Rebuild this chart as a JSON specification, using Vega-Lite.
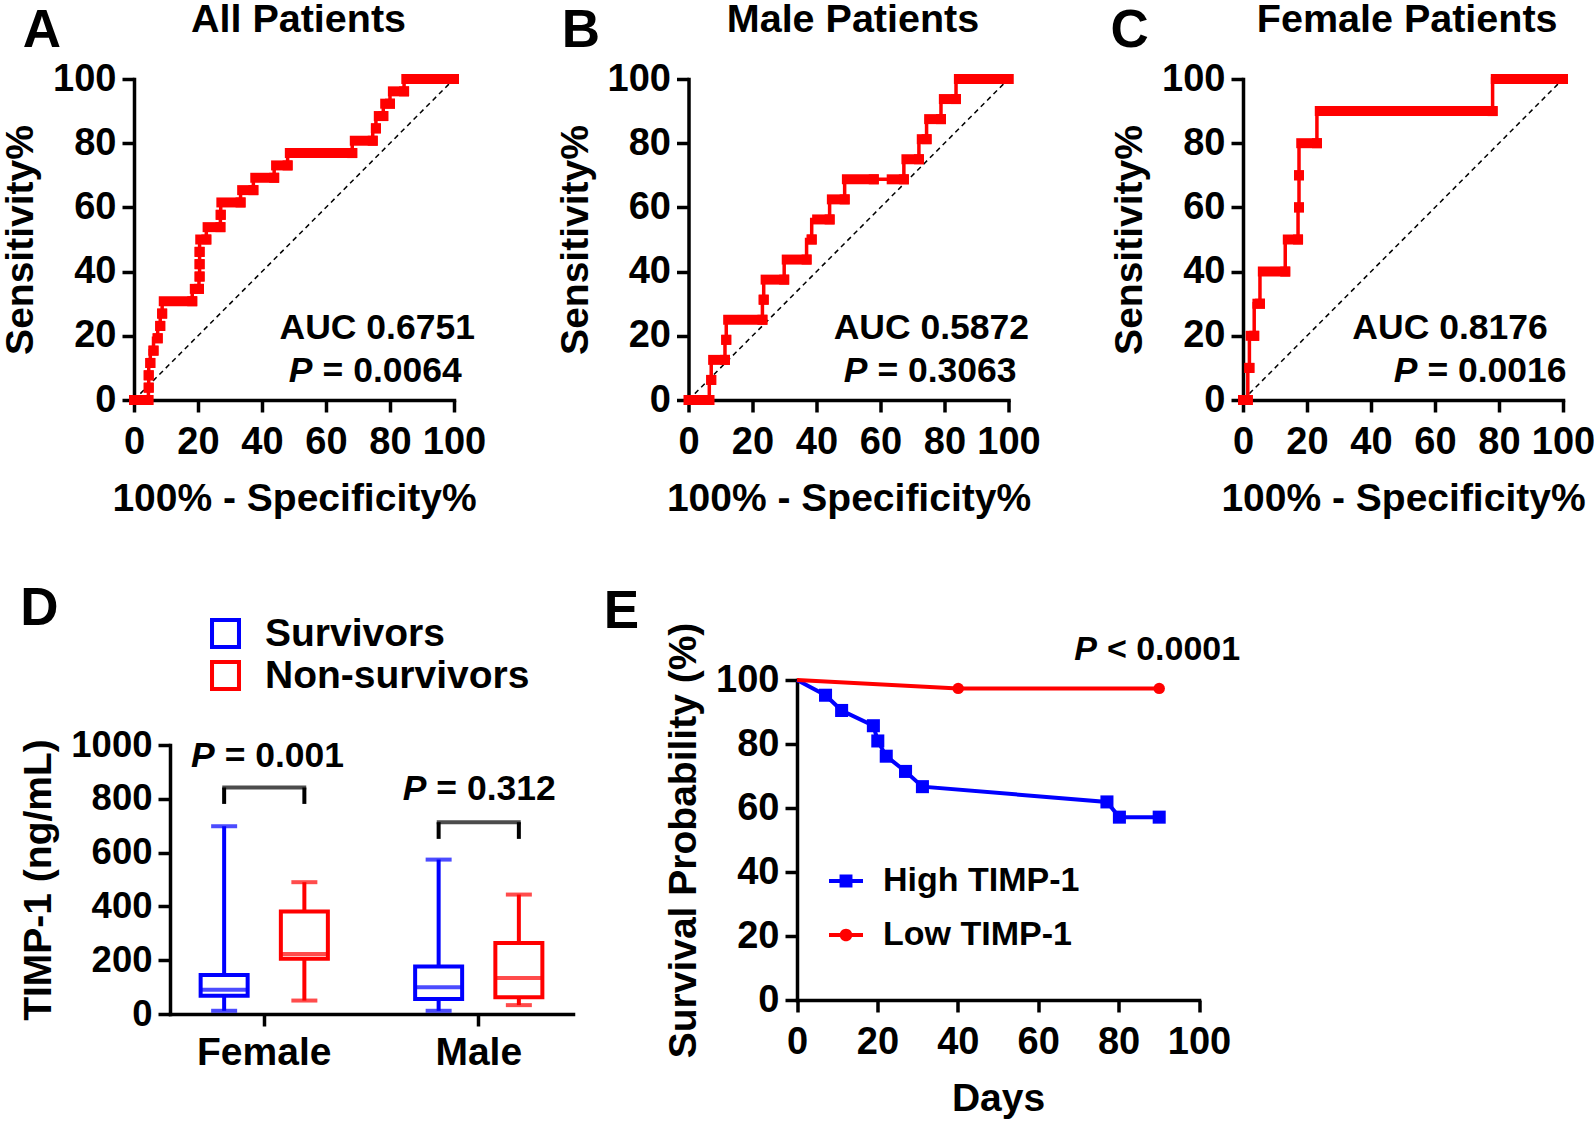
{
  "$schema": "https://vega.github.io/schema/vega-lite/v6.json",
  "background": "white",
  "padding": {"left": 1, "top": 0, "right": 0, "bottom": 5},
  "config": {
    "font": "Liberation Sans",
    "view": {"stroke": null},
    "axis": {"domainColor": "#000", "domainWidth": 3.5, "domainCap": "square", "tickColor": "#000", "tickWidth": 3.5, "tickSize": 12, "grid": false,
      "labelFont": "Liberation Sans", "labelFontSize": 38, "labelFontWeight": "bold", "labelColor": "#000",
      "titleFont": "Liberation Sans", "titleFontSize": 39, "titleFontWeight": "bold", "titleColor": "#000",
      "labelFlush": false, "labelOverlap": false, "labelBound": false},
    "axisX": {"labelPadding": 11, "titlePadding": 18},
    "axisY": {"labelPadding": 6, "titlePadding": 12},
    "text": {"font": "Liberation Sans", "fontWeight": "bold", "color": "#000"},
    "legend": {"labelFont": "Liberation Sans", "labelFontWeight": "bold", "labelColor": "#000", "labelLimit": 0}
  },
  "datasets": {
    "rocAll": [
      {"sens": 0, "xa": 0, "xb": 4.5}, {"sens": 3.85, "xa": 4.6, "xb": 4.6}, {"sens": 7.69, "xa": 4.6, "xb": 4.6},
      {"sens": 11.54, "xa": 5.1, "xb": 5.1}, {"sens": 15.38, "xa": 6.1, "xb": 6.1}, {"sens": 19.23, "xa": 7.4, "xb": 7.4},
      {"sens": 23.08, "xa": 8.2, "xb": 8.2}, {"sens": 26.92, "xa": 8.8, "xb": 8.8}, {"sens": 30.77, "xa": 9.3, "xb": 18.2},
      {"sens": 34.62, "xa": 19.0, "xb": 20.3}, {"sens": 38.46, "xa": 20.5, "xb": 20.5}, {"sens": 42.31, "xa": 20.5, "xb": 20.5},
      {"sens": 46.15, "xa": 20.5, "xb": 20.5}, {"sens": 50.0, "xa": 20.7, "xb": 22.6}, {"sens": 53.85, "xa": 23.0, "xb": 27.0},
      {"sens": 57.69, "xa": 27.1, "xb": 27.1}, {"sens": 61.54, "xa": 27.3, "xb": 33.3}, {"sens": 65.38, "xa": 33.8, "xb": 37.3},
      {"sens": 69.23, "xa": 37.9, "xb": 43.8}, {"sens": 73.08, "xa": 44.4, "xb": 48.0}, {"sens": 76.92, "xa": 48.7, "xb": 68.2},
      {"sens": 80.77, "xa": 69.0, "xb": 74.6}, {"sens": 84.62, "xa": 75.6, "xb": 75.6}, {"sens": 88.46, "xa": 76.5, "xb": 77.9},
      {"sens": 92.31, "xa": 78.5, "xb": 80.0}, {"sens": 96.15, "xa": 80.9, "xb": 84.4}, {"sens": 100, "xa": 85.1, "xb": 100}
    ],
    "rocMale": [
      {"sens": 0, "xa": 0, "xb": 6.5}, {"sens": 6.25, "xa": 7.1, "xb": 7.1}, {"sens": 12.5, "xa": 7.7, "xb": 11.4},
      {"sens": 18.75, "xa": 11.8, "xb": 11.8}, {"sens": 25, "xa": 12.4, "xb": 23.1}, {"sens": 31.25, "xa": 23.5, "xb": 23.5},
      {"sens": 37.5, "xa": 24.1, "xb": 29.9}, {"sens": 43.75, "xa": 30.7, "xb": 36.9}, {"sens": 50, "xa": 38.5, "xb": 38.5},
      {"sens": 56.25, "xa": 40.2, "xb": 44.1}, {"sens": 62.5, "xa": 44.8, "xb": 48.8}, {"sens": 68.75, "xa": 49.5, "xb": 57.9},
      {"sens": 68.75, "xa": 63.5, "xb": 67.3}, {"sens": 75, "xa": 68.1, "xb": 72.0}, {"sens": 81.25, "xa": 72.9, "xb": 74.4},
      {"sens": 87.5, "xa": 75.2, "xb": 78.9}, {"sens": 93.75, "xa": 79.8, "xb": 83.6}, {"sens": 100, "xa": 84.5, "xb": 100}
    ],
    "rocFemale": [
      {"sens": 0, "xa": 0, "xb": 1.5}, {"sens": 10, "xa": 2.0, "xb": 2.0}, {"sens": 20, "xa": 2.4, "xb": 3.5},
      {"sens": 30, "xa": 4.5, "xb": 5.3}, {"sens": 40, "xa": 6.2, "xb": 13.2}, {"sens": 50, "xa": 14.0, "xb": 17.2},
      {"sens": 60, "xa": 17.5, "xb": 17.5}, {"sens": 70, "xa": 17.5, "xb": 17.5}, {"sens": 80, "xa": 18.2, "xb": 23.1},
      {"sens": 90, "xa": 24.0, "xb": 78.0}, {"sens": 100, "xa": 79.0, "xb": 100}
    ],
    "box": [
      {"sex": "Female", "group": "Survivors", "min": 12, "q1": 68, "median": 90, "q3": 145, "max": 698},
      {"sex": "Female", "group": "Non-survivors", "min": 50, "q1": 205, "median": 223, "q3": 381, "max": 490},
      {"sex": "Male", "group": "Survivors", "min": 12, "q1": 56, "median": 99, "q3": 177, "max": 574},
      {"sex": "Male", "group": "Non-survivors", "min": 33, "q1": 62, "median": 134, "q3": 264, "max": 444}
    ],
    "surv": [
      {"group": "High TIMP-1", "day": 0, "surv": 100}, {"group": "High TIMP-1", "day": 7.1, "surv": 95.24},
      {"group": "High TIMP-1", "day": 11.1, "surv": 90.48}, {"group": "High TIMP-1", "day": 19.0, "surv": 85.71},
      {"group": "High TIMP-1", "day": 20.1, "surv": 80.95}, {"group": "High TIMP-1", "day": 22.2, "surv": 76.19},
      {"group": "High TIMP-1", "day": 27.0, "surv": 71.43}, {"group": "High TIMP-1", "day": 31.2, "surv": 66.67},
      {"group": "High TIMP-1", "day": 77.1, "surv": 61.9}, {"group": "High TIMP-1", "day": 80.2, "surv": 57.14},
      {"group": "High TIMP-1", "day": 90.1, "surv": 57.14},
      {"group": "Low TIMP-1", "day": 0, "surv": 100}, {"group": "Low TIMP-1", "day": 40.1, "surv": 97.37},
      {"group": "Low TIMP-1", "day": 90.1, "surv": 97.37}
    ]
  },
  "columns": 3,
  "align": "each",
  "bounds": "flush",
  "spacing": {"row": 280, "column": 234.5},
  "resolve": {"scale": {"color": "independent", "shape": "independent"}, "legend": {"color": "independent", "shape": "independent"}},
  "concat": [
    {
      "width": 320, "height": 321,
      "data": {"name": "rocAll"},
      "layer": [
        {"data": {"values": [{}]}, "mark": {"type": "rule", "color": "#000", "strokeWidth": 1.5, "strokeDash": [5, 4]},
         "encoding": {"x": {"datum": 0, "type": "quantitative"}, "y": {"datum": 0, "type": "quantitative"}, "x2": {"datum": 100}, "y2": {"datum": 100}}},
        {"mark": {"type": "line", "interpolate": "step-before", "color": "#ff0000", "strokeWidth": 3.5, "clip": false},
         "encoding": {
           "x": {"field": "xb", "type": "quantitative", "title": "100% - Specificity%", "scale": {"domain": [0, 100], "nice": false}, "axis": {"values": [0, 20, 40, 60, 80, 100]}},
           "y": {"field": "sens", "type": "quantitative", "title": "Sensitivity%", "scale": {"domain": [0, 100], "nice": false}, "axis": {"values": [0, 20, 40, 60, 80, 100]}},
           "order": {"field": "sens", "type": "quantitative"}}},
        {"mark": {"type": "rule", "color": "#ff0000", "strokeWidth": 10, "strokeCap": "square", "clip": false},
         "encoding": {"x": {"field": "xa", "type": "quantitative", "title": "100% - Specificity%"}, "x2": {"field": "xb"}, "y": {"field": "sens", "type": "quantitative", "title": "Sensitivity%"}}},
        {"mark": {"type": "square", "color": "#ff0000", "size": 100, "opacity": 1, "clip": false},
         "encoding": {"x": {"field": "xb", "type": "quantitative", "title": "100% - Specificity%"}, "y": {"field": "sens", "type": "quantitative", "title": "Sensitivity%"}}},
        {"data": {"values": [{}]}, "mark": {"type": "text", "text": "All Patients", "fontSize": 39.5, "baseline": "alphabetic", "align": "center", "clip": false},
         "encoding": {"x": {"datum": 51.4, "type": "quantitative"}, "y": {"datum": 114.6, "type": "quantitative"}}},
        {"data": {"values": [{}]}, "mark": {"type": "text", "text": "A", "fontSize": 53, "baseline": "alphabetic", "align": "left", "clip": false},
         "encoding": {"x": {"datum": -34.8, "type": "quantitative"}, "y": {"datum": 110, "type": "quantitative"}}},
        {"data": {"values": [{}]}, "mark": {"type": "text", "text": "AUC 0.6751", "fontSize": 35.5, "baseline": "alphabetic", "align": "center", "clip": false},
         "encoding": {"x": {"datum": 76, "type": "quantitative"}, "y": {"datum": 19, "type": "quantitative"}}},
        {"data": {"values": [{}]}, "mark": {"type": "text", "text": "P", "fontStyle": "italic", "fontSize": 35.5, "baseline": "alphabetic", "align": "right", "clip": false},
         "encoding": {"x": {"datum": 55.8, "type": "quantitative"}, "y": {"datum": 5.6, "type": "quantitative"}}},
        {"data": {"values": [{}]}, "mark": {"type": "text", "text": "= 0.0064", "fontSize": 35.5, "baseline": "alphabetic", "align": "left", "dx": 10, "clip": false},
         "encoding": {"x": {"datum": 55.8, "type": "quantitative"}, "y": {"datum": 5.6, "type": "quantitative"}}}
      ]
    },
    {
      "width": 320, "height": 321,
      "data": {"name": "rocMale"},
      "layer": [
        {"data": {"values": [{}]}, "mark": {"type": "rule", "color": "#000", "strokeWidth": 1.5, "strokeDash": [5, 4]},
         "encoding": {"x": {"datum": 0, "type": "quantitative"}, "y": {"datum": 0, "type": "quantitative"}, "x2": {"datum": 100}, "y2": {"datum": 100}}},
        {"mark": {"type": "line", "interpolate": "step-before", "color": "#ff0000", "strokeWidth": 3.5, "clip": false},
         "encoding": {
           "x": {"field": "xb", "type": "quantitative", "title": "100% - Specificity%", "scale": {"domain": [0, 100], "nice": false}, "axis": {"values": [0, 20, 40, 60, 80, 100]}},
           "y": {"field": "sens", "type": "quantitative", "title": "Sensitivity%", "scale": {"domain": [0, 100], "nice": false}, "axis": {"values": [0, 20, 40, 60, 80, 100]}},
           "order": {"field": "sens", "type": "quantitative"}}},
        {"mark": {"type": "rule", "color": "#ff0000", "strokeWidth": 10, "strokeCap": "square", "clip": false},
         "encoding": {"x": {"field": "xa", "type": "quantitative", "title": "100% - Specificity%"}, "x2": {"field": "xb"}, "y": {"field": "sens", "type": "quantitative", "title": "Sensitivity%"}}},
        {"mark": {"type": "square", "color": "#ff0000", "size": 100, "opacity": 1, "clip": false},
         "encoding": {"x": {"field": "xb", "type": "quantitative", "title": "100% - Specificity%"}, "y": {"field": "sens", "type": "quantitative", "title": "Sensitivity%"}}},
        {"data": {"values": [{}]}, "mark": {"type": "text", "text": "Male Patients", "fontSize": 39.5, "baseline": "alphabetic", "align": "center", "clip": false},
         "encoding": {"x": {"datum": 51.4, "type": "quantitative"}, "y": {"datum": 114.6, "type": "quantitative"}}},
        {"data": {"values": [{}]}, "mark": {"type": "text", "text": "B", "fontSize": 53, "baseline": "alphabetic", "align": "left", "clip": false},
         "encoding": {"x": {"datum": -39.6, "type": "quantitative"}, "y": {"datum": 110, "type": "quantitative"}}},
        {"data": {"values": [{}]}, "mark": {"type": "text", "text": "AUC 0.5872", "fontSize": 35.5, "baseline": "alphabetic", "align": "center", "clip": false},
         "encoding": {"x": {"datum": 75.9, "type": "quantitative"}, "y": {"datum": 19, "type": "quantitative"}}},
        {"data": {"values": [{}]}, "mark": {"type": "text", "text": "P", "fontStyle": "italic", "fontSize": 35.5, "baseline": "alphabetic", "align": "right", "clip": false},
         "encoding": {"x": {"datum": 55.9, "type": "quantitative"}, "y": {"datum": 5.6, "type": "quantitative"}}},
        {"data": {"values": [{}]}, "mark": {"type": "text", "text": "= 0.3063", "fontSize": 35.5, "baseline": "alphabetic", "align": "left", "dx": 10, "clip": false},
         "encoding": {"x": {"datum": 55.9, "type": "quantitative"}, "y": {"datum": 5.6, "type": "quantitative"}}}
      ]
    },
    {
      "width": 320, "height": 321,
      "data": {"name": "rocFemale"},
      "layer": [
        {"data": {"values": [{}]}, "mark": {"type": "rule", "color": "#000", "strokeWidth": 1.5, "strokeDash": [5, 4]},
         "encoding": {"x": {"datum": 0, "type": "quantitative"}, "y": {"datum": 0, "type": "quantitative"}, "x2": {"datum": 100}, "y2": {"datum": 100}}},
        {"mark": {"type": "line", "interpolate": "step-before", "color": "#ff0000", "strokeWidth": 3.5, "clip": false},
         "encoding": {
           "x": {"field": "xb", "type": "quantitative", "title": "100% - Specificity%", "scale": {"domain": [0, 100], "nice": false}, "axis": {"values": [0, 20, 40, 60, 80, 100]}},
           "y": {"field": "sens", "type": "quantitative", "title": "Sensitivity%", "scale": {"domain": [0, 100], "nice": false}, "axis": {"values": [0, 20, 40, 60, 80, 100]}},
           "order": {"field": "sens", "type": "quantitative"}}},
        {"mark": {"type": "rule", "color": "#ff0000", "strokeWidth": 10, "strokeCap": "square", "clip": false},
         "encoding": {"x": {"field": "xa", "type": "quantitative", "title": "100% - Specificity%"}, "x2": {"field": "xb"}, "y": {"field": "sens", "type": "quantitative", "title": "Sensitivity%"}}},
        {"mark": {"type": "square", "color": "#ff0000", "size": 100, "opacity": 1, "clip": false},
         "encoding": {"x": {"field": "xb", "type": "quantitative", "title": "100% - Specificity%"}, "y": {"field": "sens", "type": "quantitative", "title": "Sensitivity%"}}},
        {"data": {"values": [{}]}, "mark": {"type": "text", "text": "Female Patients", "fontSize": 39.5, "baseline": "alphabetic", "align": "center", "clip": false},
         "encoding": {"x": {"datum": 51.3, "type": "quantitative"}, "y": {"datum": 114.6, "type": "quantitative"}}},
        {"data": {"values": [{}]}, "mark": {"type": "text", "text": "C", "fontSize": 53, "baseline": "alphabetic", "align": "left", "clip": false},
         "encoding": {"x": {"datum": -41.4, "type": "quantitative"}, "y": {"datum": 110, "type": "quantitative"}}},
        {"data": {"values": [{}]}, "mark": {"type": "text", "text": "AUC 0.8176", "fontSize": 35.5, "baseline": "alphabetic", "align": "center", "clip": false},
         "encoding": {"x": {"datum": 64.7, "type": "quantitative"}, "y": {"datum": 19, "type": "quantitative"}}},
        {"data": {"values": [{}]}, "mark": {"type": "text", "text": "P", "fontStyle": "italic", "fontSize": 35.5, "baseline": "alphabetic", "align": "right", "clip": false},
         "encoding": {"x": {"datum": 54.5, "type": "quantitative"}, "y": {"datum": 5.6, "type": "quantitative"}}},
        {"data": {"values": [{}]}, "mark": {"type": "text", "text": "= 0.0016", "fontSize": 35.5, "baseline": "alphabetic", "align": "left", "dx": 10, "clip": false},
         "encoding": {"x": {"datum": 54.5, "type": "quantitative"}, "y": {"datum": 5.6, "type": "quantitative"}}}
      ]
    },
    {
      "width": 320, "height": 334,
      "data": {"name": "box"},
      "encoding": {
        "x": {"field": "sex", "type": "nominal", "title": null, "scale": {"domain": ["Female", "Male"], "range": [36, 439], "paddingInner": 0.252, "paddingOuter": 0.0654}, "axis": {"labelAngle": 0, "labelFontSize": 39, "labelPadding": 7}},
        "xOffset": {"field": "group", "type": "nominal", "scale": {"domain": ["Survivors", "Non-survivors"], "paddingInner": 0.414, "paddingOuter": 0.207}},
        "color": {"field": "group", "type": "nominal", "scale": {"domain": ["Survivors", "Non-survivors"], "range": ["#0000ff", "#ff0000"]},
          "legend": {"title": null, "orient": "none", "legendX": 72, "legendY": -66, "direction": "vertical", "padding": 0,
            "labelFontSize": 39, "labelOffset": 20, "rowPadding": 2, "symbolType": "M-1,-1H1V1H-1Z M-0.74,-0.74V0.74H0.74V-0.74Z", "symbolSize": 961, "symbolStrokeWidth": 0}}
      },
      "layer": [
        {"mark": {"type": "rule", "strokeWidth": 4},
         "encoding": {"y": {"field": "min", "type": "quantitative", "title": "TIMP-1 (ng/mL)", "scale": {"domain": [0, 1000], "range": [334, 65], "nice": false}, "axis": {"values": [0, 200, 400, 600, 800, 1000], "format": "d", "labelFontSize": 36.5, "offset": -36}}, "y2": {"field": "q1"}}},
        {"mark": {"type": "rule", "strokeWidth": 4},
         "encoding": {"y": {"field": "q3", "type": "quantitative", "title": "TIMP-1 (ng/mL)"}, "y2": {"field": "max"}}},
        {"mark": {"type": "bar", "filled": false, "strokeWidth": 4, "width": {"band": 1}},
         "encoding": {"y": {"field": "q1", "type": "quantitative", "title": "TIMP-1 (ng/mL)"}, "y2": {"field": "q3"}}},
        {"mark": {"type": "tick", "thickness": 4, "size": 49},
         "encoding": {"y": {"field": "median", "type": "quantitative", "title": "TIMP-1 (ng/mL)"}}},
        {"mark": {"type": "tick", "thickness": 4, "size": 26},
         "encoding": {"y": {"field": "min", "type": "quantitative", "title": "TIMP-1 (ng/mL)"}}},
        {"mark": {"type": "tick", "thickness": 4, "size": 26},
         "encoding": {"y": {"field": "max", "type": "quantitative", "title": "TIMP-1 (ng/mL)"}}},
        {"data": {"values": [{}]}, "mark": {"type": "rule", "strokeWidth": 4, "color": "#000"},
         "encoding": {"x": {"datum": "Female", "type": "nominal"}, "xOffset": {"datum": "Survivors", "type": "nominal"}, "y": {"datum": 781, "type": "quantitative"}, "y2": {"datum": 842}, "color": {"value": "#000"}}},
        {"data": {"values": [{}]}, "mark": {"type": "rule", "strokeWidth": 4, "color": "#000"},
         "encoding": {"x": {"datum": "Female", "type": "nominal"}, "xOffset": {"datum": "Non-survivors", "type": "nominal"}, "y": {"datum": 781, "type": "quantitative"}, "y2": {"datum": 842}, "color": {"value": "#000"}}},
        {"data": {"values": [{}]}, "mark": {"type": "rule", "strokeWidth": 4, "color": "#000"},
         "encoding": {"x": {"datum": "Male", "type": "nominal"}, "xOffset": {"datum": "Survivors", "type": "nominal"}, "y": {"datum": 651, "type": "quantitative"}, "y2": {"datum": 713}, "color": {"value": "#000"}}},
        {"data": {"values": [{}]}, "mark": {"type": "rule", "strokeWidth": 4, "color": "#000"},
         "encoding": {"x": {"datum": "Male", "type": "nominal"}, "xOffset": {"datum": "Non-survivors", "type": "nominal"}, "y": {"datum": 651, "type": "quantitative"}, "y2": {"datum": 713}, "color": {"value": "#000"}}},
        {"data": {"values": [{}]}, "mark": {"type": "tick", "thickness": 4, "size": 84, "color": "#000"},
         "encoding": {"x": {"datum": "Female", "type": "nominal"}, "xOffset": null, "y": {"datum": 842, "type": "quantitative"}, "color": {"value": "#000"}}},
        {"data": {"values": [{}]}, "mark": {"type": "tick", "thickness": 4, "size": 84, "color": "#000"},
         "encoding": {"x": {"datum": "Male", "type": "nominal"}, "xOffset": null, "y": {"datum": 713, "type": "quantitative"}, "color": {"value": "#000"}}},
        {"data": {"values": [{}]}, "mark": {"type": "text", "text": "P", "fontStyle": "italic", "fontSize": 35.5, "baseline": "alphabetic", "align": "right", "dx": -49.5, "clip": false},
         "encoding": {"x": {"datum": "Female", "type": "nominal"}, "xOffset": null, "y": {"datum": 917, "type": "quantitative"}, "color": {"value": "#000"}}},
        {"data": {"values": [{}]}, "mark": {"type": "text", "text": "= 0.001", "fontSize": 35.5, "baseline": "alphabetic", "align": "left", "dx": -39.6, "clip": false},
         "encoding": {"x": {"datum": "Female", "type": "nominal"}, "xOffset": null, "y": {"datum": 917, "type": "quantitative"}, "color": {"value": "#000"}}},
        {"data": {"values": [{}]}, "mark": {"type": "text", "text": "P", "fontStyle": "italic", "fontSize": 35.5, "baseline": "alphabetic", "align": "right", "dx": -52.3, "clip": false},
         "encoding": {"x": {"datum": "Male", "type": "nominal"}, "xOffset": null, "y": {"datum": 797, "type": "quantitative"}, "color": {"value": "#000"}}},
        {"data": {"values": [{}]}, "mark": {"type": "text", "text": "= 0.312", "fontSize": 35.5, "baseline": "alphabetic", "align": "left", "dx": -42.4, "clip": false},
         "encoding": {"x": {"datum": "Male", "type": "nominal"}, "xOffset": null, "y": {"datum": 797, "type": "quantitative"}, "color": {"value": "#000"}}},
        {"data": {"values": [{}]}, "mark": {"type": "text", "text": "D", "fontSize": 53, "baseline": "alphabetic", "align": "left", "dx": -244, "clip": false},
         "encoding": {"x": {"datum": "Female", "type": "nominal"}, "xOffset": null, "y": {"datum": 1445, "type": "quantitative"}, "color": {"value": "#000"}}}
      ]
    },
    {
      "width": 320, "height": 320,
      "data": {"name": "surv"},
      "layer": [
        {"transform": [{"filter": "datum.group === 'High TIMP-1'"}],
         "mark": {"type": "line", "strokeWidth": 4, "color": "#0000ff", "clip": false},
         "encoding": {
           "x": {"field": "day", "type": "quantitative", "title": "Days", "scale": {"domain": [0, 100], "range": [108.5, 510.5], "nice": false}, "axis": {"values": [0, 20, 40, 60, 80, 100]}},
           "y": {"field": "surv", "type": "quantitative", "title": "Survival Probability (%)", "scale": {"domain": [0, 100], "nice": false}, "axis": {"values": [0, 20, 40, 60, 80, 100], "offset": -108.5}},
           "order": {"field": "day", "type": "quantitative"}}},
        {"transform": [{"filter": "datum.group === 'Low TIMP-1'"}],
         "mark": {"type": "line", "strokeWidth": 4, "color": "#ff0000", "clip": false},
         "encoding": {
           "x": {"field": "day", "type": "quantitative", "title": "Days"},
           "y": {"field": "surv", "type": "quantitative", "title": "Survival Probability (%)"},
           "order": {"field": "day", "type": "quantitative"}}},
        {"transform": [{"filter": "datum.group === 'High TIMP-1' && datum.day > 0"}],
         "mark": {"type": "square", "opacity": 1, "size": 170, "color": "#0000ff", "clip": false},
         "encoding": {
           "x": {"field": "day", "type": "quantitative", "title": "Days"},
           "y": {"field": "surv", "type": "quantitative", "title": "Survival Probability (%)"}}},
        {"transform": [{"filter": "datum.group === 'Low TIMP-1' && datum.day > 0"}],
         "mark": {"type": "circle", "opacity": 1, "size": 130, "color": "#ff0000", "clip": false},
         "encoding": {
           "x": {"field": "day", "type": "quantitative", "title": "Days"},
           "y": {"field": "surv", "type": "quantitative", "title": "Survival Probability (%)"}}},
        {"transform": [{"filter": "false"}],
         "mark": {"type": "point", "filled": true, "opacity": 1},
         "encoding": {
           "x": {"field": "day", "type": "quantitative", "title": "Days"},
           "y": {"field": "surv", "type": "quantitative", "title": "Survival Probability (%)"},
           "color": {"field": "group", "type": "nominal", "scale": {"domain": ["High TIMP-1", "Low TIMP-1"], "range": ["#0000ff", "#ff0000"]},
             "legend": {"title": null, "orient": "none", "legendX": 140.5, "legendY": 184, "direction": "vertical", "padding": 0,
               "labelFontSize": 34, "labelOffset": 20, "rowPadding": 20, "symbolSize": 1156, "symbolStrokeWidth": 0}},
           "shape": {"field": "group", "type": "nominal",
             "scale": {"domain": ["High TIMP-1", "Low TIMP-1"], "range": ["M-1,-0.12H1V0.12H-1Z M-0.38,-0.38H0.38V0.38H-0.38Z", "M-1,-0.12H1V0.12H-1Z M0.37,0A0.37,0.37,0,1,1,-0.37,0A0.37,0.37,0,1,1,0.37,0Z"]},
             "legend": {"title": null, "orient": "none", "legendX": 140.5, "legendY": 184, "direction": "vertical", "padding": 0,
               "labelFontSize": 34, "labelOffset": 20, "rowPadding": 20, "symbolSize": 1156, "symbolStrokeWidth": 0}}}},
        {"data": {"values": [{}]}, "mark": {"type": "text", "text": "E", "fontSize": 53, "baseline": "alphabetic", "align": "left", "clip": false},
         "encoding": {"x": {"datum": -48.1, "type": "quantitative"}, "y": {"datum": 116.4, "type": "quantitative"}}},
        {"data": {"values": [{}]}, "mark": {"type": "text", "text": "P", "fontStyle": "italic", "fontSize": 34, "baseline": "alphabetic", "align": "right", "clip": false},
         "encoding": {"x": {"datum": 74.6, "type": "quantitative"}, "y": {"datum": 106.4, "type": "quantitative"}}},
        {"data": {"values": [{}]}, "mark": {"type": "text", "text": "< 0.0001", "fontSize": 34, "baseline": "alphabetic", "align": "left", "dx": 10, "clip": false},
         "encoding": {"x": {"datum": 74.6, "type": "quantitative"}, "y": {"datum": 106.4, "type": "quantitative"}}}
      ]
    }
  ]
}
